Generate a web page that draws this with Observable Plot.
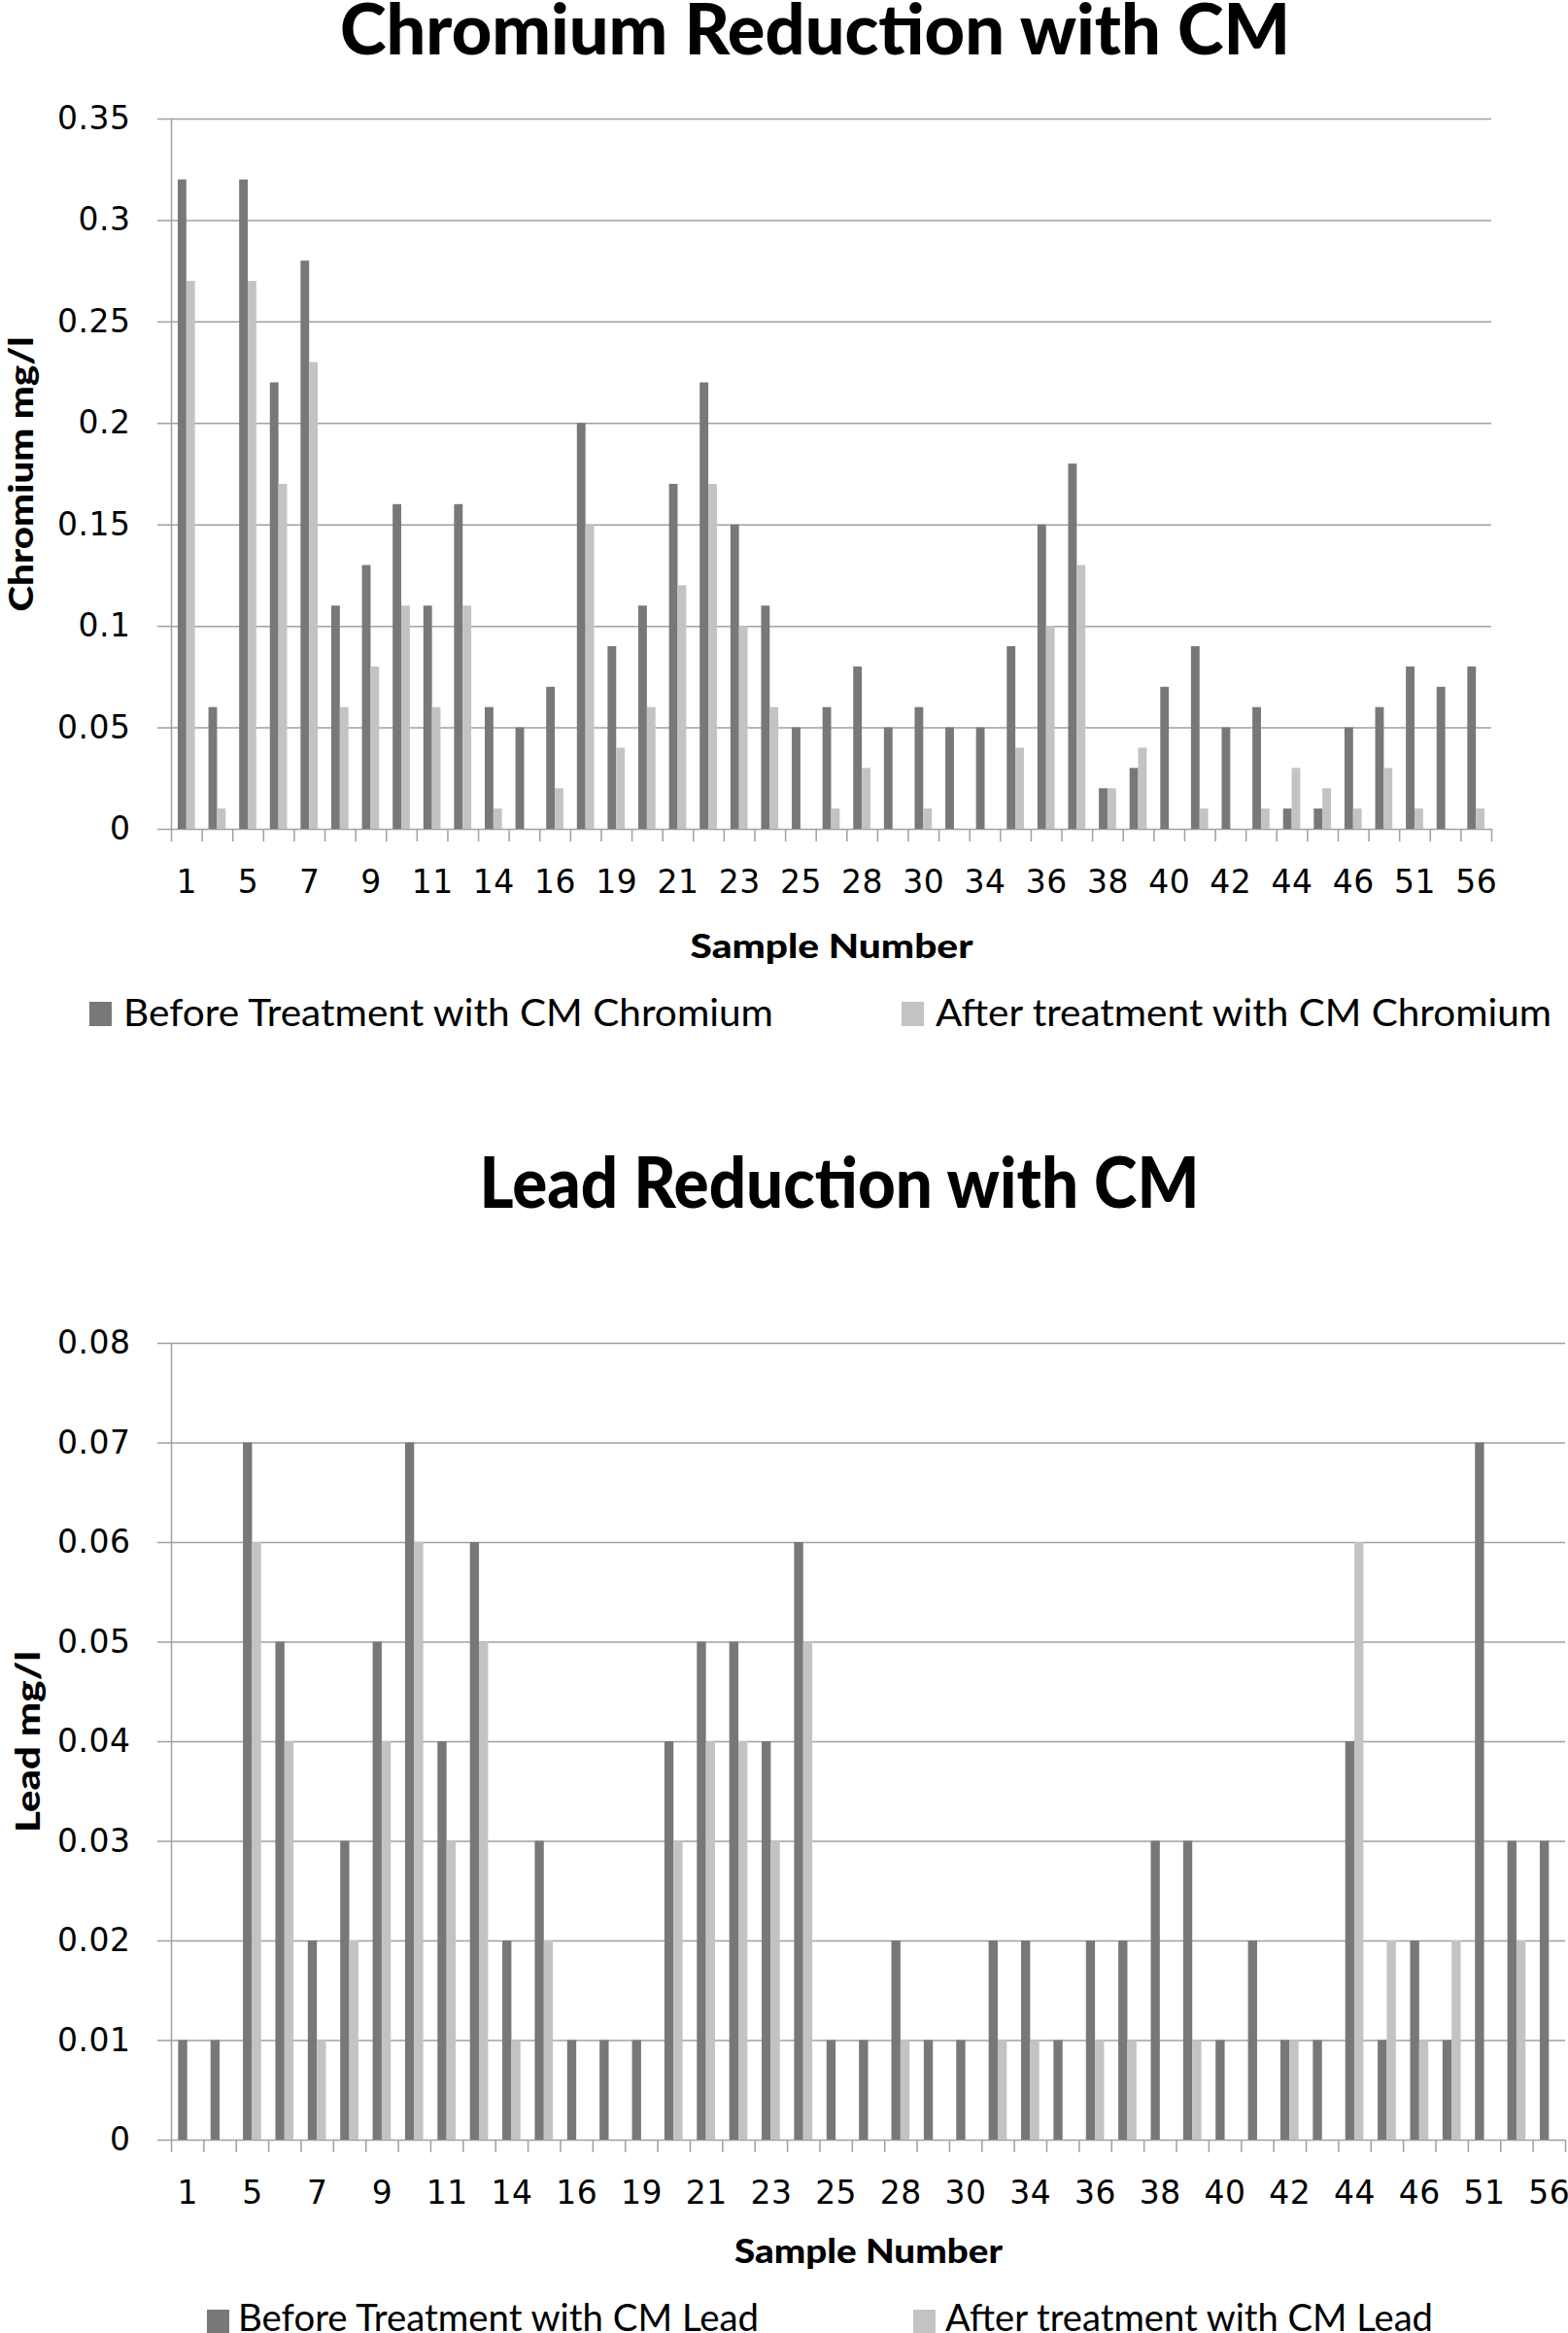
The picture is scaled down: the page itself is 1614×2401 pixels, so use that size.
<!DOCTYPE html>
<html>
<head>
<meta charset="utf-8">
<script src="https://cdn.jsdelivr.net/npm/d3@7"></script>
<script src="https://cdn.jsdelivr.net/npm/@observablehq/plot@0.6"></script>
<style>
  html, body { margin: 0; padding: 0; background: #fff; }
  body { width: 1614px; height: 2401px; overflow: hidden; position: relative; }
  .block { position: relative; width: 1614px; }
  .title { position: absolute; white-space: nowrap; font-family: Lato, "Open Sans", sans-serif; font-weight: 900; font-size: 72px; line-height: 0.8; color: #000; transform-origin: center center; }
  .swatch { position: absolute; width: 23px; height: 25px; }
  .ltext { position: absolute; white-space: nowrap; font-family: Lato, "Open Sans", sans-serif; font-size: 38px; line-height: 1; color: #000; transform-origin: left center; }
  svg { display: block; }
  [aria-label$="tick label"] text { letter-spacing: 0.5px; }
</style>
</head>
<body>
<div class="block" id="t1" style="height:80px"></div>
<div id="c1"></div>
<div class="block" id="l1" style="height:72px"></div>
<div class="block" id="t2" style="height:223px"></div>
<div id="c2"></div>
<div class="block" id="l2" style="height:60px"></div>
<script>
// ---- data ----
const samples = ["1","3","5","6","7","8","9","10","11","12","14","15","16","18","19","20","21","22","23","24","25","27","28","29","30","32","34","35","36","37","38","39","40","41","42","43","44","45","46","48","51","53","56"];

const chromiumBefore = [0.32,0.06,0.32,0.22,0.28,0.11,0.13,0.16,0.11,0.16,0.06,0.05,0.07,0.20,0.09,0.11,0.17,0.22,0.15,0.11,0.05,0.06,0.08,0.05,0.06,0.05,0.05,0.09,0.15,0.18,0.02,0.03,0.07,0.09,0.05,0.06,0.01,0.01,0.05,0.06,0.08,0.07,0.08];
const chromiumAfter  = [0.27,0.01,0.27,0.17,0.23,0.06,0.08,0.11,0.06,0.11,0.01,0,0.02,0.15,0.04,0.06,0.12,0.17,0.10,0.06,0,0.01,0.03,0,0.01,0,0,0.04,0.10,0.13,0.02,0.04,0,0.01,0,0.01,0.03,0.02,0.01,0.03,0.01,0,0.01];

const leadBefore = [0.01,0.01,0.07,0.05,0.02,0.03,0.05,0.07,0.04,0.06,0.02,0.03,0.01,0.01,0.01,0.04,0.05,0.05,0.04,0.06,0.01,0.01,0.02,0.01,0.01,0.02,0.02,0.01,0.02,0.02,0.03,0.03,0.01,0.02,0.01,0.01,0.04,0.01,0.02,0.01,0.07,0.03,0.03];
const leadAfter  = [0,0,0.06,0.04,0.01,0.02,0.04,0.06,0.03,0.05,0.01,0.02,0,0,0,0.03,0.04,0.04,0.03,0.05,0,0,0.01,0,0,0.01,0.01,0,0.01,0.01,0,0.01,0,0,0.01,0,0.06,0.02,0.01,0.02,0,0.02,0];

const chromiumTicks = [0, 0.05, 0.1, 0.15, 0.2, 0.25, 0.3, 0.35];
const leadTicks = [0, 0.01, 0.02, 0.03, 0.04, 0.05, 0.06, 0.07, 0.08];

const chromiumSeries = ["Before Treatment with CM Chromium", "After treatment with CM Chromium"];
const leadSeries = ["Before Treatment with CM Lead", "After treatment with CM Lead"];

const titles = ["Chromium Reduction with CM", "Lead Reduction with CM"];
const yTitles = ["Chromium mg/l", "Lead mg/l"];
const xTitle = "Sample Number";

// ---- style ----
const DARK = "#787878", LIGHT = "#c3c3c3", GRID = "#a0a0a0";
const BAR = 0.28;

function chart(o) {
  const rows = [];
  samples.forEach((s, i) => {
    rows.push({i, series: o.series[0], value: o.before[i]});
    rows.push({i, series: o.series[1], value: o.after[i]});
  });
  const bounds = d3.range(samples.length + 1).map(i => i - 0.5);
  const labelled = d3.range(0, samples.length, 2);
  const svg = Plot.plot({
    width: 1614, height: o.height,
    marginLeft: 176, marginRight: o.marginRight, marginTop: o.marginTop, marginBottom: o.marginBottom,
    style: {fontFamily: "'DejaVu Sans', sans-serif", fontSize: "33px", color: "#000", background: "#fff"},
    x: {type: "linear", domain: [-0.5, samples.length - 0.5]},
    y: {domain: [0, o.ticks[o.ticks.length - 1]]},
    color: {domain: o.series, range: [DARK, LIGHT]},
    marks: [
      Plot.gridY(o.ticks, {stroke: GRID, strokeOpacity: 1, strokeWidth: 1.5}),
      Plot.axisY(o.ticks, {label: null, tickSize: 14, tickPadding: 28, stroke: GRID, strokeWidth: 1.5, strokeOpacity: 1, tickFormat: d => String(d), fill: "#000", fontSize: 33}),
      Plot.rect(rows, {
        x1: d => d.i + (d.series === o.series[0] ? -BAR : 0),
        x2: d => d.i + (d.series === o.series[0] ? 0 : BAR),
        y1: 0, y2: "value", fill: "series"
      }),
      Plot.ruleX([-0.5], {stroke: GRID, strokeWidth: 1.5}),
      Plot.axisX(bounds, {label: null, tickSize: 13, stroke: GRID, strokeWidth: 1.5, strokeOpacity: 1, tickFormat: () => ""}),
      Plot.axisX(labelled, {label: null, tickSize: 0, tickPadding: 42, tickFormat: i => samples[i], fill: "#000", fontSize: 33}),
      Plot.text([xTitle], {frameAnchor: "bottom", dy: o.xTitleDy, text: d => d, lineAnchor: "middle", textAnchor: "middle",
        fontFamily: "Lato, 'Open Sans', sans-serif", fontWeight: 900, fontSize: 35, fill: "#000"}),
      Plot.text([o.yTitle], {frameAnchor: "left", dx: o.yTitleDx, rotate: -90, text: d => d, lineAnchor: "middle", textAnchor: "middle",
        fontFamily: "Lato, 'Open Sans', sans-serif", fontWeight: 900, fontSize: 35, fill: "#000"})
    ]
  });
  const fit = (content, len) => svg.querySelectorAll("text").forEach(t => {
    if (t.textContent === content) {
      t.setAttribute("textLength", len);
      t.setAttribute("lengthAdjust", "spacingAndGlyphs");
    }
  });
  fit(xTitle, o.xTitleLen);
  fit(o.yTitle, o.yTitleLen);
  return svg;
}

document.getElementById("c1").append(chart({
  before: chromiumBefore, after: chromiumAfter, ticks: chromiumTicks, series: chromiumSeries, yTitle: yTitles[0],
  height: 925, marginTop: 42, marginBottom: 152, marginRight: 79,
  xTitleDy: 121, xTitleLen: 291, yTitleDx: -154, yTitleLen: 283
}));
document.getElementById("c2").append(chart({
  before: leadBefore, after: leadAfter, ticks: leadTicks, series: leadSeries, yTitle: yTitles[1],
  height: 1050, marginTop: 82, marginBottom: 148, marginRight: 3,
  xTitleDy: 115, xTitleLen: 276, yTitleDx: -147, yTitleLen: 187
}));

// ---- titles and legends (HTML) ----
const scaled = [];
function addTitle(id, text, centerX, top, width) {
  const s = document.createElement("span");
  s.className = "title";
  s.textContent = text;
  s.style.left = centerX + "px";
  s.style.top = top + "px";
  document.getElementById(id).append(s);
  scaled.push({el: s, width, centered: true});
}
function addLegend(id, items) {
  const root = document.getElementById(id);
  items.forEach(it => {
    const sw = document.createElement("div");
    sw.className = "swatch";
    sw.style.left = it.swatchX + "px";
    sw.style.top = it.swatchTop + "px";
    sw.style.background = it.color;
    root.append(sw);
    const t = document.createElement("span");
    t.className = "ltext";
    t.textContent = it.label;
    t.style.left = it.textX + "px";
    t.style.top = it.textTop + "px";
    root.append(t);
    scaled.push({el: t, width: it.width, centered: false});
  });
}
addTitle("t1", titles[0], 839, 0, 978);
addTitle("t2", titles[1], 864, 110, 741);
addLegend("l1", [
  {color: DARK, label: chromiumSeries[0], swatchX: 92, swatchTop: 26, textX: 127, textTop: 17, width: 669},
  {color: LIGHT, label: chromiumSeries[1], swatchX: 928, swatchTop: 26, textX: 963, textTop: 17, width: 634}
]);
addLegend("l2", [
  {color: DARK, label: leadSeries[0], swatchX: 213, swatchTop: 27, textX: 245, textTop: 15, width: 536},
  {color: LIGHT, label: leadSeries[1], swatchX: 940, swatchTop: 27, textX: 973, textTop: 15, width: 502}
]);
function applyScale() {
  scaled.forEach(({el, width, centered}) => {
    el.style.transform = "none";
    const w = el.getBoundingClientRect().width;
    const k = width / w;
    el.style.transform = centered ? `translateX(-50%) scaleX(${k})` : `scaleX(${k})`;
  });
}
applyScale();
if (document.fonts && document.fonts.ready) document.fonts.ready.then(applyScale);
</script>
</body>
</html>
